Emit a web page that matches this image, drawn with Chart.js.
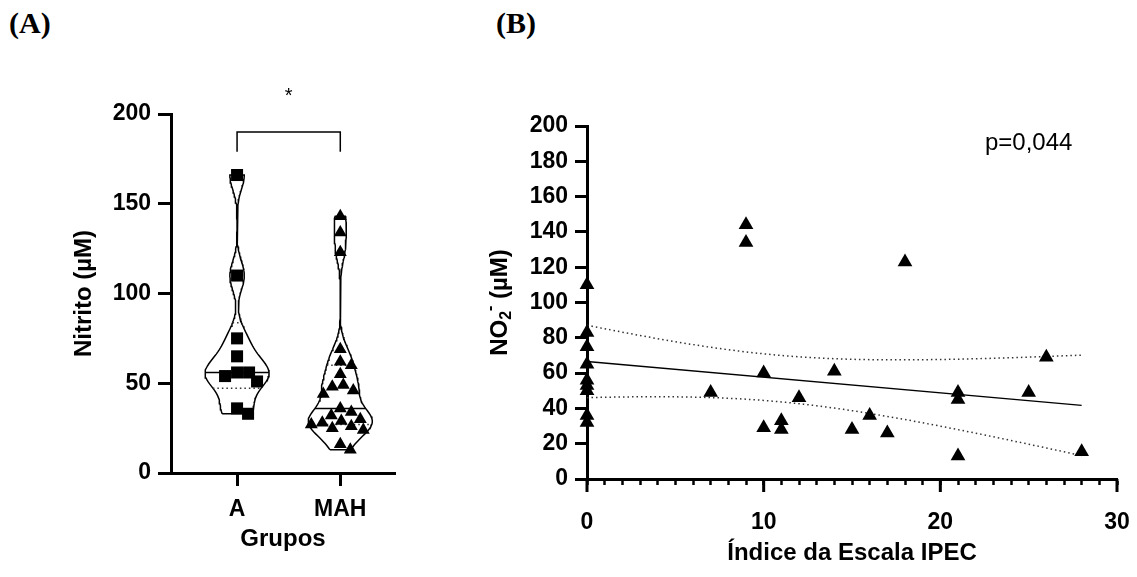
<!DOCTYPE html>
<html>
<head>
<meta charset="utf-8">
<script src="https://cdn.jsdelivr.net/npm/chart.js@4.4.1/dist/chart.umd.min.js"></script>
<style>
    body { margin: 0; background: #fff; width: 1137px; height: 577px; position: relative; overflow: hidden; }
    canvas { position: absolute; top: 0; }
    #chartA { left: 0; }
    #chartB { left: 460px; }
    .panel { position: absolute; top: 6px; font: bold 30px "Liberation Serif", serif; color: #000; }
</style>
</head>
<body>
<div class="panel" style="left:9px">(A)</div>
<div class="panel" style="left:496px">(B)</div>
<canvas id="chartA" width="460" height="577"></canvas>
<canvas id="chartB" width="677" height="577"></canvas>
<script>
// Panel A - nitrite per group (violin + points)
const groupLabels = ['A', 'MAH'];
const nitriteA = [166, 110, 75, 65, 56, 56, 54, 51, 36, 33];
const nitriteMAH = [143, 134, 123, 69, 62, 60, 55, 49, 48, 46, 44, 36, 34, 32, 30, 29, 28, 27, 26, 25, 24, 16, 13];
const yTicksA = [0, 50, 100, 150, 200];
const bracketLevel = 190;
const bracketLeg = 179;
const starLevel = 210;

// Panel B - IPEC score vs NO2-
const ipecScore = [0, 0, 0, 0, 0, 0, 0, 0, 0, 7, 9, 9, 10, 10, 11, 11, 12, 14, 15, 16, 17, 18, 21, 21, 21, 25, 26, 28];
const no2Values = [110, 83, 75, 65, 56, 53, 50, 36, 32, 49, 144, 134, 60, 29, 33, 28, 46, 61, 28, 36, 26, 123, 49, 45, 13, 49, 69, 15.5];
const xMajorB = [0, 10, 20, 30];
const pValueText = 'p=0,044';
const tValue = 2.056; // t(0.975, df = 26)

Chart.defaults.font.family = '"Liberation Sans", Arial, sans-serif';
Chart.defaults.color = '#000';

// gaussian kernel density, unnormalised
function density(values, h, y) {
    let s = 0;
    values.forEach(v => {
        const z = (y - v) / h;
        s += Math.exp(-0.5 * z * z);
    });
    return s;
}

function quantile(values, p) {
    const s = values.slice().sort((a, b) => a - b);
    const pos = p * (s.length + 1) - 1;
    const lo = Math.max(0, Math.floor(pos)), hi = Math.min(s.length - 1, Math.ceil(pos));
    return s[lo] + (s[hi] - s[lo]) * (pos - Math.floor(pos));
}

// builds outline + median/quartile segments for one violin
function violin(values, center, h, halfWidth) {
    const lo = Math.min(...values), hi = Math.max(...values);
    const steps = 120;
    const ys = [];
    for (let i = 0; i <= steps; i++) ys.push(lo + (hi - lo) * i / steps);
    const dens = ys.map(y => density(values, h, y));
    const maxD = Math.max(...dens);
    const w = y => halfWidth * density(values, h, y) / maxD;
    const left = ys.map((y, i) => ({ x: center - halfWidth * dens[i] / maxD, y: y }));
    const right = ys.map((y, i) => ({ x: center + halfWidth * dens[i] / maxD, y: y })).reverse();
    const seg = q => [{ x: center - w(q), y: q }, { x: center + w(q), y: q }];
    return {
        outline: left.concat(right, [left[0]]),
        median: seg(quantile(values, 0.5)),
        q1: seg(quantile(values, 0.25)),
        q3: seg(quantile(values, 0.75))
    };
}

// spread tied points sideways (simple beeswarm) using the chart's scales
function swarm(values, center, chart, diameter) {
    const xs = chart.scales.x, ys = chart.scales.y;
    const pxPerUnit = xs.getPixelForValue(1) - xs.getPixelForValue(0);
    const placed = [];
    const out = new Array(values.length);
    const order = values.map((v, i) => i).sort((a, b) => values[b] - values[a]);
    order.forEach(i => {
        const py = ys.getPixelForValue(values[i]);
        let off = 0;
        for (let k = 0; k < 200; k++) {
            const cand = (k % 2 ? 1 : -1) * Math.ceil(k / 2);
            const hit = placed.some(p => Math.hypot(p.x - cand, p.y - py) < diameter);
            if (!hit) { off = cand; break; }
        }
        placed.push({ x: off, y: py });
        out[i] = { x: center + off / pxPerUnit, y: values[i] };
    });
    return out;
}

const vA = violin(nitriteA, 0, 8, 0.31);
const vM = violin(nitriteMAH, 1, 7, 0.31);

const lineDs = (data, opts) => Object.assign({
    type: 'scatter', data: data, showLine: true, pointRadius: 0,
    borderColor: '#000', borderWidth: 1.5, fill: false, tension: 0
}, opts || {});
const dotted = { borderWidth: 1.5, borderDash: [1.5, 3], borderColor: '#333' };

const bracketPlugin = {
    id: 'bracket',
    afterDraw(chart) {
        const { ctx, scales: { x, y } } = chart;
        const x0 = x.getPixelForValue(0), x1 = x.getPixelForValue(1);
        const yTop = y.getPixelForValue(bracketLevel), yLeg = y.getPixelForValue(bracketLeg);
        ctx.save();
        ctx.strokeStyle = '#000';
        ctx.lineWidth = 1.5;
        ctx.beginPath();
        ctx.moveTo(x0, yLeg);
        ctx.lineTo(x0, yTop);
        ctx.lineTo(x1, yTop);
        ctx.lineTo(x1, yLeg);
        ctx.stroke();
        ctx.fillStyle = '#000';
        ctx.font = '20px "Liberation Sans"';
        ctx.textAlign = 'center';
        ctx.textBaseline = 'middle';
        ctx.fillText('*', (x0 + x1) / 2, y.getPixelForValue(starLevel));
        ctx.restore();
    }
};

const axisStyle = {
    grid: { drawOnChartArea: false, drawTicks: true, tickLength: 13, tickWidth: 3, tickColor: '#000' },
    border: { display: true, width: 3, color: '#000' }
};

const chartA = new Chart(document.getElementById('chartA'), {
    type: 'scatter',
    data: {
        datasets: [
            { data: nitriteA.map(v => ({ x: 0, y: v })), pointStyle: 'rect', pointRadius: 8.5, backgroundColor: '#000', borderColor: '#000', borderWidth: 0, clip: false },
            { data: nitriteMAH.map(v => ({ x: 1, y: v })), pointStyle: 'triangle', pointRadius: 7.5, backgroundColor: '#000', borderColor: '#000', borderWidth: 0, clip: false },
            lineDs(vA.median),
            lineDs(vM.median),
            lineDs(vA.q1, dotted),
            lineDs(vA.q3, dotted),
            lineDs(vM.q1, dotted),
            lineDs(vM.q3, dotted),
            lineDs(vA.outline),
            lineDs(vM.outline)
        ]
    },
    options: {
        responsive: false,
        animation: false,
        devicePixelRatio: 1,
        layout: { padding: { top: 114, right: 65, bottom: 0, left: 0 } },
        plugins: { legend: { display: false }, tooltip: { enabled: false } },
        scales: {
            x: Object.assign({
                type: 'linear', min: -0.64, max: 1.53,
                afterBuildTicks: s => { s.ticks = groupLabels.map((g, i) => ({ value: i })); },
                afterFit: s => { s.height = 104; },
                ticks: { callback: v => groupLabels[v], font: { size: 23, weight: 'bold' }, padding: 10, maxRotation: 0 },
                title: { display: true, text: 'Grupos', font: { size: 24, weight: 'bold' }, padding: { top: 0, bottom: 23 } }
            }, axisStyle),
            y: Object.assign({
                min: 0, max: 200,
                afterBuildTicks: s => { s.ticks = yTicksA.map(v => ({ value: v })); },
                afterFit: s => { s.width = 171; },
                ticks: { font: { size: 23, weight: 'bold' }, padding: 7 },
                title: { display: true, text: 'Nitrito (µM)', font: { size: 24, weight: 'bold' }, padding: { top: 70, bottom: 0 } }
            }, axisStyle)
        }
    },
    plugins: [bracketPlugin]
});

chartA.data.datasets[0].data = swarm(nitriteA, 0, chartA, 12);
chartA.data.datasets[1].data = swarm(nitriteMAH, 1, chartA, 11);
chartA.update('none');

// Panel B regression with 95% confidence band
const n = ipecScore.length;
const mx = ipecScore.reduce((a, b) => a + b, 0) / n;
const my = no2Values.reduce((a, b) => a + b, 0) / n;
let sxx = 0, sxy = 0;
ipecScore.forEach((x, i) => { sxx += (x - mx) ** 2; sxy += (x - mx) * (no2Values[i] - my); });
const slope = sxy / sxx;
const intercept = my - slope * mx;
let sse = 0;
ipecScore.forEach((x, i) => { sse += (no2Values[i] - (intercept + slope * x)) ** 2; });
const sRes = Math.sqrt(sse / (n - 2));
const xMin = Math.min(...ipecScore), xMax = Math.max(...ipecScore);
const fitLine = [xMin, xMax].map(x => ({ x: x, y: intercept + slope * x }));
const bandUpper = [], bandLower = [];
for (let x = xMin; x <= xMax + 1e-9; x += 0.25) {
    const half = tValue * sRes * Math.sqrt(1 / n + (x - mx) ** 2 / sxx);
    const yf = intercept + slope * x;
    bandUpper.push({ x: x, y: yf + half });
    bandLower.push({ x: x, y: yf - half });
}

const extrasB = {
    id: 'extrasB',
    afterDraw(chart) {
        const { ctx, scales: { x, y }, chartArea } = chart;
        ctx.save();
        // longer major ticks
        ctx.strokeStyle = '#000';
        ctx.lineWidth = 3;
        xMajorB.forEach(v => {
            const px = x.getPixelForValue(v);
            ctx.beginPath();
            ctx.moveTo(px, chartArea.bottom);
            ctx.lineTo(px, chartArea.bottom + 13);
            ctx.stroke();
        });
        // p value
        ctx.fillStyle = '#000';
        ctx.font = '24px "Liberation Sans"';
        ctx.textAlign = 'center';
        ctx.textBaseline = 'middle';
        ctx.fillText(pValueText, x.getPixelForValue(25), y.getPixelForValue(190));
        // y title NO2- (µM)
        ctx.translate(40, (chartArea.top + chartArea.bottom) / 2);
        ctx.rotate(-Math.PI / 2);
        const big = 'bold 24px "Liberation Sans"', small = 'bold 16px "Liberation Sans"';
        const parts = [
            { t: 'NO', f: big, dy: 0 },
            { t: '2', f: small, dy: 7 },
            { t: '-', f: small, dy: -9 },
            { t: ' (µM)', f: big, dy: 0 }
        ];
        let total = 0;
        parts.forEach(p => { ctx.font = p.f; p.w = ctx.measureText(p.t).width; total += p.w; });
        let cx = -total / 2;
        ctx.textAlign = 'left';
        parts.forEach(p => { ctx.font = p.f; ctx.fillText(p.t, cx, p.dy); cx += p.w; });
        ctx.restore();
    }
};

new Chart(document.getElementById('chartB'), {
    type: 'scatter',
    data: {
        datasets: [
            { data: ipecScore.map((x, i) => ({ x: x, y: no2Values[i] })), pointStyle: 'triangle', pointRadius: 8.5, backgroundColor: '#000', borderColor: '#000', borderWidth: 0, clip: false },
            lineDs(fitLine),
            lineDs(bandUpper, dotted),
            lineDs(bandLower, dotted)
        ]
    },
    options: {
        responsive: false,
        animation: false,
        devicePixelRatio: 1,
        layout: { padding: { top: 126, right: 20, bottom: 0, left: 0 } },
        plugins: { legend: { display: false }, tooltip: { enabled: false } },
        scales: {
            x: {
                min: 0, max: 30,
                afterFit: s => { s.height = 98; s.paddingLeft = 0; s.paddingRight = 0; },
                ticks: { stepSize: 1, autoSkip: false, maxRotation: 0, callback: v => xMajorB.includes(v) ? v : '', font: { size: 23, weight: 'bold' }, padding: 24 },
                grid: { drawOnChartArea: false, drawTicks: true, tickLength: 6, tickWidth: 2.5, tickColor: '#000' },
                border: { display: true, width: 3, color: '#000' },
                title: { display: true, text: 'Índice da Escala IPEC', font: { size: 24, weight: 'bold' }, padding: { top: 0, bottom: 9 } }
            },
            y: {
                min: 0, max: 200,
                afterFit: s => { s.width = 127; },
                ticks: { stepSize: 20, font: { size: 23, weight: 'bold' }, padding: 7 },
                grid: { drawOnChartArea: false, drawTicks: true, tickLength: 12, tickWidth: 3, tickColor: '#000' },
                border: { display: true, width: 3, color: '#000' }
            }
        }
    },
    plugins: [extrasB]
});
</script>
</body>
</html>
